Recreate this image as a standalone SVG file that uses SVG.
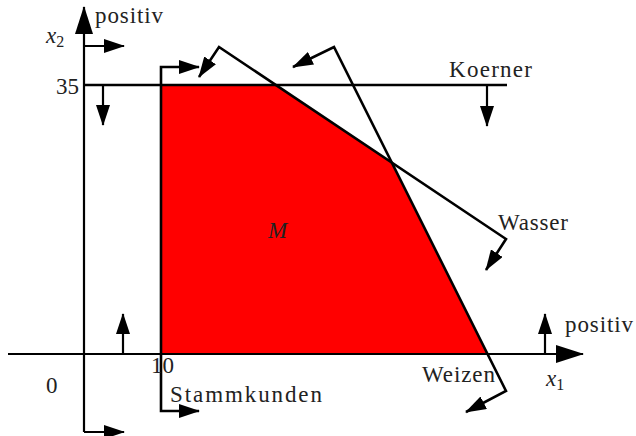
<svg xmlns="http://www.w3.org/2000/svg" width="636" height="436" viewBox="0 0 636 436">
<style>
.ln{fill:none;stroke:#000;stroke-width:2.6;stroke-linejoin:miter}
.ax{fill:none;stroke:#000;stroke-width:2.2}
.t{font-family:'Liberation Serif','DejaVu Serif',serif;font-size:23px;fill:#222}
.i{font-style:italic}
.s{font-size:16px}
</style>
<defs>
<marker id="a" viewBox="0 0 21 14" refX="20" refY="7" markerWidth="21" markerHeight="14" markerUnits="userSpaceOnUse" orient="auto-start-reverse">
<path d="M0,0 L21,7 L0,14 Z" fill="#000"/>
</marker>
<marker id="A" viewBox="0 0 28 18" refX="27" refY="9" markerWidth="28" markerHeight="18" markerUnits="userSpaceOnUse" orient="auto-start-reverse">
<path d="M0,0 L28,9 L0,18 Z" fill="#000"/>
</marker>
</defs>
<g id="region">
<polygon points="161,85 276,85 391,162 487,354 161,354" fill="#ff0000"/>
</g>
<g id="connectors">
<path id="xaxis" class="ax" d="M8,354 L583,354" marker-end="url(#A)"/>
<path id="yaxis" class="ax" d="M84,432 L84,7" marker-end="url(#A)"/>
<path class="ax" d="M84,432 L124,432" marker-end="url(#a)"/>
<path class="ax" d="M84,46 L124,46" marker-end="url(#a)"/>
<path class="ax" d="M123,354 L123,314" marker-end="url(#a)"/>
<path class="ax" d="M545,354 L545,314" marker-end="url(#a)"/>
<path id="koerner" class="ln" d="M84,85 L507,85"/>
<path class="ax" d="M103,85 L103,125" marker-end="url(#a)"/>
<path class="ax" d="M487,85 L487,126" marker-end="url(#a)"/>
<path id="stammkunden" class="ln" d="M199,67 L161,67 L161,411 L199,411" marker-start="url(#a)" marker-end="url(#a)"/>
<path id="wasser" class="ln" d="M199,77 L219,47 L506,239 L486,270" marker-start="url(#a)" marker-end="url(#a)"/>
<path id="weizen" class="ln" d="M293,67 L334,47 L506,391 L466,412" marker-start="url(#a)" marker-end="url(#a)"/>
</g>
<g id="labels">
<text class="t" x="95" y="23" textLength="68">positiv</text>
<text class="t i" x="46" y="43">x<tspan class="s" font-style="normal" dy="4">2</tspan></text>
<text class="t" x="56" y="94">35</text>
<text class="t" x="449" y="77" textLength="83">Koerner</text>
<text class="t i" x="268" y="238">M</text>
<text class="t" x="498" y="230" textLength="70">Wasser</text>
<text class="t" x="565" y="332" textLength="68">positiv</text>
<text class="t" x="151" y="373">10</text>
<text class="t" x="46" y="393">0</text>
<text class="t" x="170" y="402" textLength="152">Stammkunden</text>
<text class="t" x="422" y="382" textLength="73">Weizen</text>
<text class="t i" x="546" y="386">x<tspan class="s" font-style="normal" dy="4">1</tspan></text>
</g>
</svg>
